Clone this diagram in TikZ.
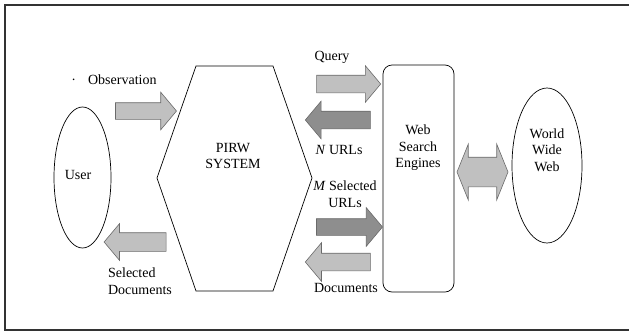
\documentclass[tikz,border=0pt]{standalone}
\usepackage{fontspec}
\setmainfont{Liberation Serif}
\usetikzlibrary{shapes.geometric,shapes.arrows}
\usepackage{xcolor}
\definecolor{pwlight}{HTML}{C0C0C0}
\definecolor{pwdark}{HTML}{8E8E8E}
\definecolor{pwedge}{HTML}{6A6A6A}
\tikzset{
  pwtext/.style={font=\fontsize{14}{16.5}\selectfont, inner sep=0pt, align=center},
  pwshape/.style={draw, line width=0.7pt},
  pwblock/.style={single arrow, draw=pwedge, line width=0.6pt, inner xsep=0pt,
    single arrow head indent=0pt, single arrow tip angle=100},
  pwright/.style={pwblock},
  pwleft/.style={pwblock, shape border rotate=180},
  pwlight/.style={fill=pwlight},
  pwdark/.style={fill=pwdark},
}

\begin{document}
\begin{tikzpicture}[x=1pt, y=-1pt]
  \useasboundingbox (0,0) rectangle (629,333);
  \draw[line width=1.8pt, draw=black!80] (629,5) -- (5,5) -- (5,330) -- (629,330);

  % actors and system
  \node[pwshape, ellipse, minimum width=57pt, minimum height=141pt] (user) at (82.5,177.5) {};
  \node[pwtext] (usertext) at (78,175) {User};
  \draw[pwshape] (196,66) -- (273,66) -- (312,178) -- (273,291) -- (196,291) -- (157,178) -- cycle;
  \node[pwtext] (pirw) at (233,156) {PIRW\\SYSTEM};
  \node[pwshape, rectangle, rounded corners=9pt, minimum width=71pt, minimum height=227pt] (wse) at (418.5,178.5) {};
  \node[pwtext] (wsetext) at (418,148) {Web\\Search\\Engines};
  \node[pwshape, ellipse, minimum width=70pt, minimum height=155pt] (www) at (547,165.5) {};
  \node[pwtext] (wwwtext) at (547,150) {World\\Wide\\Web};

  % block arrows
  \node[pwright, pwlight, minimum height=61pt, inner ysep=8pt, single arrow head extend=10.5pt] (obs) at (142.5,111) {};
  \node[pwleft, pwlight, minimum height=62pt, inner ysep=9pt, single arrow head extend=9pt] (seldocs) at (139,242) {};
  \node[pwright, pwlight, minimum height=64pt, inner ysep=8.5pt, single arrow head extend=9.5pt] (query) at (345,84) {};
  \node[pwleft, pwdark, minimum height=65pt, inner ysep=8.5pt, single arrow head extend=10pt] (nurls) at (341.5,120) {};
  \node[pwright, pwdark, minimum height=66pt, inner ysep=8pt, single arrow head extend=11pt] (msel) at (346,227) {};
  \node[pwleft, pwlight, minimum height=65pt, inner ysep=8.5pt, single arrow head extend=10.5pt] (docs) at (341.5,262) {};
  \node[double arrow, draw=pwedge, line width=0.6pt, pwlight, inner xsep=0pt, inner ysep=14.5pt, double arrow head indent=0pt,
    double arrow tip angle=136, minimum height=51pt, double arrow head extend=13pt] (search) at (482.5,172) {};

  % labels
  \node[pwtext] (obslabel) at (114,80) {\textperiodcentered\hspace{12pt}Observation};
  \node[pwtext, align=left] (seldocslabel) at (140,281) {Selected\\Documents};
  \node[pwtext] (querylabel) at (332,57) {Query};
  \node[pwtext] (nurlslabel) at (339,150) {\textit{N} URLs};
  \node[pwtext] (msellabel) at (345,194) {\textit{M} Selected\\URLs};
  \node[pwtext] (docslabel) at (346,288) {Documents};
\end{tikzpicture}
\end{document}
